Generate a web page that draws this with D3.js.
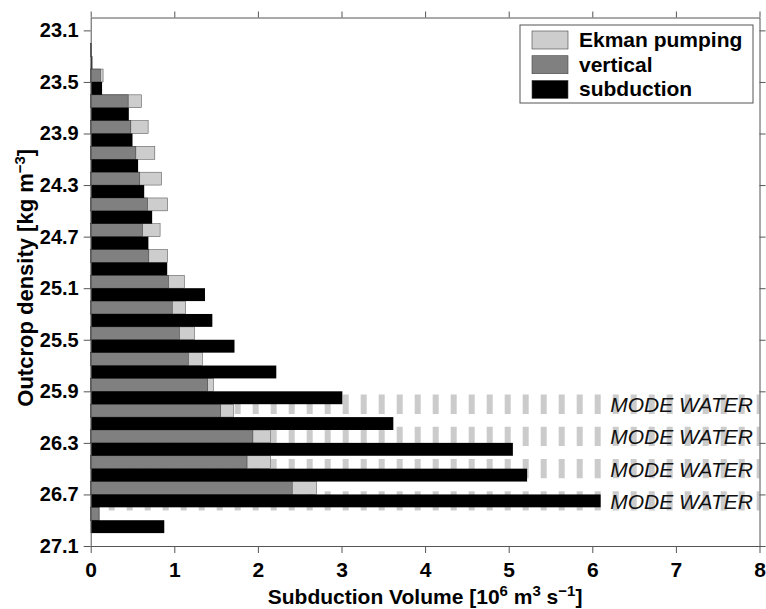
<!DOCTYPE html>
<html>
<head>
<meta charset="utf-8">
<script src="https://cdn.jsdelivr.net/npm/d3@7"></script>
<style>
  body { margin: 0; background: #fff; }
  svg { display: block; font-family: "Liberation Sans", Arial, Helvetica, sans-serif; }
  .tick text { font-weight: bold; fill: #000; }
  .frame path, .frame line { stroke: #555; }
</style>
</head>
<body>
<div id="chart"></div>
<script>
// density bins (lower edge), each 0.2 wide: grey pair on top half, black on lower half
var binStart = [23.0, 23.2, 23.4, 23.6, 23.8, 24.0, 24.2, 24.4, 24.6, 24.8,
                25.0, 25.2, 25.4, 25.6, 25.8, 26.0, 26.2, 26.4, 26.6, 26.8];
var ekman      = [0, 0.006, 0.148, 0.607, 0.687, 0.767, 0.847, 0.92, 0.83, 0.92,
                  1.12, 1.135, 1.24, 1.335, 1.467, 1.706, 2.15, 2.15, 2.70, 0.10];
var vertical   = [0, 0.006, 0.116, 0.448, 0.48, 0.54, 0.587, 0.68, 0.62, 0.695,
                  0.93, 0.975, 1.06, 1.167, 1.40, 1.555, 1.94, 1.87, 2.41, 0.10];
var subduction = [0, 0.02, 0.136, 0.456, 0.50, 0.567, 0.64, 0.735, 0.69, 0.915,
                  1.367, 1.455, 1.72, 2.22, 3.01, 3.62, 5.05, 5.22, 6.10, 0.88];

var modeWater = [26.0, 26.25, 26.5, 26.75];
var yTicks = [23.1, 23.5, 23.9, 24.3, 24.7, 25.1, 25.5, 25.9, 26.3, 26.7, 27.1];
var xTicks = [0, 1, 2, 3, 4, 5, 6, 7, 8];
var legendItems = ["Ekman pumping", "vertical", "subduction"];
var legendColors = ["#cdcdcd", "#808080", "#000000"];

var svgWidth = 766;
var svgHeight = 609;

var svg = d3.select("#chart")
  .append("svg")
  .attr("width", svgWidth)
  .attr("height", svgHeight);

var x = d3.scaleLinear().domain([0, 8]).range([90.7, 759.5]);
var y = d3.scaleLinear().domain([23.0, 27.1]).range([17.5, 546]);

// mode water dashed bands (behind the bars)
var bandHalf = 0.075;
svg.append("g")
  .selectAll("line")
  .data(modeWater)
  .enter()
  .append("line")
  .attr("x1", x(0))
  .attr("x2", x(8))
  .attr("y1", d => y(d))
  .attr("y2", d => y(d))
  .attr("stroke", "#cbcbcb")
  .attr("stroke-width", d => y(d + bandHalf) - y(d - bandHalf))
  .attr("stroke-dasharray", "6,12");

var bins = binStart.map((d, i) => ({
  d: d, ekman: ekman[i], vertical: vertical[i], subduction: subduction[i]
}));

var barGroup = svg.append("g");

// Ekman pumping behind vertical
barGroup.selectAll(".ek")
  .data(bins.filter(b => b.ekman > 0))
  .enter()
  .append("rect")
  .attr("x", x(0))
  .attr("y", b => y(b.d))
  .attr("width", b => x(b.ekman) - x(0))
  .attr("height", b => y(b.d + 0.1) - y(b.d))
  .attr("fill", legendColors[0])
  .attr("stroke", "#444")
  .attr("stroke-width", 0.5);

barGroup.selectAll(".vt")
  .data(bins.filter(b => b.vertical > 0))
  .enter()
  .append("rect")
  .attr("x", x(0))
  .attr("y", b => y(b.d))
  .attr("width", b => x(b.vertical) - x(0))
  .attr("height", b => y(b.d + 0.1) - y(b.d))
  .attr("fill", legendColors[1])
  .attr("stroke", "#333")
  .attr("stroke-width", 0.5);

barGroup.selectAll(".sb")
  .data(bins.filter(b => b.subduction > 0))
  .enter()
  .append("rect")
  .attr("x", x(0))
  .attr("y", b => y(b.d + 0.1))
  .attr("width", b => x(b.subduction) - x(0))
  .attr("height", b => y(b.d + 0.2) - y(b.d + 0.1))
  .attr("fill", legendColors[2]);

// frame: four axes, outward ticks
var leftAxis = d3.axisLeft(y).tickValues(yTicks).tickFormat(d3.format(".1f"))
  .tickSize(7).tickSizeOuter(0).tickPadding(5);
var bottomAxis = d3.axisBottom(x).tickValues(xTicks).tickFormat(d3.format("d"))
  .tickSize(7).tickSizeOuter(0).tickPadding(9);
var topAxis = d3.axisTop(x).tickValues(xTicks).tickFormat("").tickSize(6).tickSizeOuter(0);
var rightAxis = d3.axisRight(y).tickValues(yTicks).tickFormat("").tickSize(6).tickSizeOuter(0);

svg.append("g").attr("class", "frame")
  .attr("transform", `translate(${x(0)},0)`)
  .call(leftAxis)
  .selectAll("text").attr("font-size", 20);

svg.append("g").attr("class", "frame")
  .attr("transform", `translate(0,${y(27.1)})`)
  .call(bottomAxis)
  .selectAll("text").attr("font-size", 21);

svg.append("g").attr("class", "frame")
  .attr("transform", `translate(0,${y(23.0)})`)
  .call(topAxis);

svg.append("g").attr("class", "frame")
  .attr("transform", `translate(${x(8)},0)`)
  .call(rightAxis);

svg.selectAll(".frame .domain").attr("stroke-width", 1);

// mode water labels
svg.append("g")
  .selectAll("text")
  .data(modeWater)
  .enter()
  .append("text")
  .attr("x", 753)
  .attr("y", d => y(d) + 8)
  .attr("text-anchor", "end")
  .attr("font-size", 21)
  .attr("font-style", "italic")
  .attr("fill", "#111")
  .text("MODE WATER");

// axis titles
var xTitle = svg.append("text")
  .attr("x", (x(0) + x(8)) / 2)
  .attr("y", 604)
  .attr("text-anchor", "middle")
  .attr("font-size", 21)
  .attr("font-weight", "bold");
xTitle.append("tspan").text("Subduction Volume [10");
xTitle.append("tspan").attr("font-size", 15).attr("baseline-shift", "super").text("6");
xTitle.append("tspan").text(" m");
xTitle.append("tspan").attr("font-size", 15).attr("baseline-shift", "super").text("3");
xTitle.append("tspan").text(" s");
xTitle.append("tspan").attr("font-size", 15).attr("baseline-shift", "super").text("\u22121");
xTitle.append("tspan").text("]");

var yTitle = svg.append("text")
  .attr("transform", `translate(33,${(y(23.0) + y(27.1)) / 2 - 4}) rotate(-90)`)
  .attr("text-anchor", "middle")
  .attr("font-size", 22)
  .attr("font-weight", "bold");
yTitle.append("tspan").text("Outcrop density [kg m");
yTitle.append("tspan").attr("font-size", 15).attr("baseline-shift", "super").text("\u22123");
yTitle.append("tspan").text("]");

// legend
var legend = svg.append("g");
legend.append("rect")
  .attr("x", 520).attr("y", 25)
  .attr("width", 233).attr("height", 78)
  .attr("fill", "#fff")
  .attr("stroke", "#555");

var legendRows = legend.selectAll(".row")
  .data(legendItems)
  .enter()
  .append("g")
  .attr("transform", (d, i) => `translate(532,${31 + i * 24.7})`);

legendRows.append("rect")
  .attr("width", 36).attr("height", 18)
  .attr("fill", (d, i) => legendColors[i])
  .attr("stroke", "#444")
  .attr("stroke-width", 0.6);

legendRows.append("text")
  .attr("x", 47).attr("y", 16)
  .attr("font-size", 21)
  .attr("font-weight", "bold")
  .text(d => d);
</script>
</body>
</html>
